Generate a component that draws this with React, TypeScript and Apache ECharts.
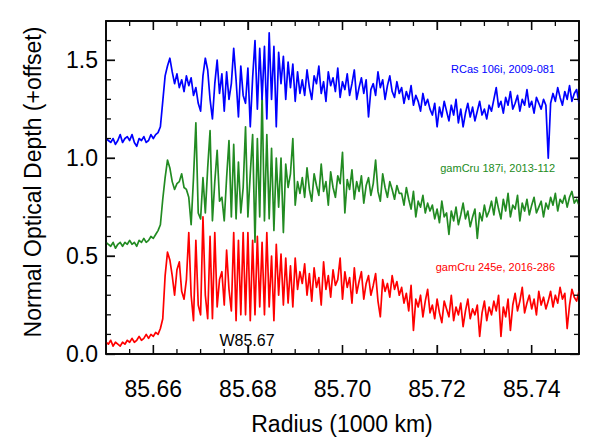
import React, { useEffect, useRef } from "react";
import * as echarts from "echarts";

// Radius sampling grid (1000 km)
const R0 = 85.65;
const DR = 0.0005;

// Normal optical depth (+offset)
const rcas106i: number[] = [
  1.10,1.09,1.08,1.10,1.07,1.09,1.12,1.08,1.10,1.11,1.09,1.12,1.08,1.06,1.10,1.09,1.11,1.08,1.09,1.12,
  1.10,1.12,1.13,1.16,1.29,1.42,1.47,1.51,1.44,1.38,
  1.43,1.36,1.40,1.34,1.42,1.37,1.41,1.32,1.36,1.28,
  1.24,1.42,1.51,1.45,1.30,1.20,1.38,1.50,1.33,1.43,
  1.24,1.44,1.30,1.38,1.56,1.40,1.21,1.47,1.32,1.28,
  1.46,1.16,1.41,1.60,1.25,1.56,1.30,1.57,1.20,1.64,
  1.30,1.57,1.16,1.54,1.38,1.52,1.30,1.49,1.36,1.48,
  1.29,1.44,1.33,
  1.40,1.32,1.45,1.36,1.30,1.42,1.38,1.47,1.33,1.39,1.29,1.44,1.37,1.41,1.34,1.46,1.31,1.39,1.35,1.43,
  1.32,1.38,1.45,1.30,1.36,1.41,1.33,1.40,1.21,1.35,1.38,1.32,1.44,1.36,1.40,1.30,1.37,1.42,1.34,1.31,
  1.39,1.33,
  1.36,1.28,1.34,1.30,1.37,1.27,1.32,1.29,1.24,1.33,1.27,1.30,1.25,
  1.22,1.28,1.16,1.26,1.21,1.29,1.24,1.19,1.27,1.22,1.30,1.18,1.25,1.16,1.23,1.28,1.21,1.26,1.19,1.24,1.29,1.22,1.25,1.20,1.27,
  1.24,1.30,1.36,1.26,1.29,1.23,1.31,1.27,1.34,1.25,1.28,1.32,1.24,1.30,1.27,1.35,1.26,1.29,1.23,1.31,1.28,1.25,1.30,1.27,
  1.00,
  1.28,1.33,1.29,1.36,1.31,1.27,1.34,1.30,1.37,1.29,1.33,1.35,1.28,
];

const gamcru187i: number[] = [
  0.57,0.56,0.55,0.57,0.54,0.56,0.57,0.55,0.57,0.56,0.58,0.56,0.57,0.55,0.58,0.57,0.59,0.57,0.58,0.60,
  0.59,0.61,0.63,0.66,0.79,0.90,0.99,0.95,0.88,0.84,
  0.87,0.88,0.92,0.85,0.84,0.80,0.66,0.90,1.18,0.72,
  0.69,0.90,0.72,0.95,1.14,0.68,0.88,1.04,0.78,0.80,
  0.68,0.90,1.09,0.70,1.07,0.69,0.98,0.72,0.85,1.16,
  0.70,0.92,1.12,0.57,1.10,0.70,1.33,0.68,1.12,0.69,
  1.05,0.63,1.00,0.75,1.00,0.62,0.97,0.85,0.92,1.10,
  0.76,0.88,0.82,
  0.90,0.80,0.95,0.84,0.78,0.92,0.86,0.81,0.97,0.83,0.88,0.76,0.93,0.85,0.80,0.91,0.87,1.03,0.72,0.89,
  0.84,0.94,0.79,0.88,0.83,0.91,0.77,0.86,0.90,0.81,0.87,0.99,0.83,0.78,0.92,0.85,0.80,0.88,0.84,0.79,
  0.86,0.82,
  0.82,0.76,0.85,0.79,0.74,0.83,0.70,0.78,0.75,0.81,0.72,0.77,0.73,
  0.76,0.69,0.74,0.67,0.78,0.70,0.72,0.61,0.73,0.68,0.75,0.66,0.71,0.77,0.69,0.73,0.65,0.70,0.74,0.59,0.72,0.68,0.76,0.70,0.73,
  0.78,0.71,0.80,0.74,0.69,0.79,0.73,0.82,0.70,0.76,0.74,0.81,0.68,0.77,0.73,0.79,0.71,0.76,0.80,0.72,0.75,0.78,0.70,0.77,
  0.74,0.80,0.76,0.82,0.73,0.79,0.77,0.81,0.75,0.80,0.83,0.77,0.79,0.76,
];

const gamcru245e: number[] = [
  0.06,0.05,0.07,0.04,0.06,0.05,0.04,0.06,0.05,0.07,0.06,0.08,0.06,0.07,0.09,0.07,0.08,0.10,0.08,0.10,
  0.09,0.11,0.10,0.13,0.18,0.40,0.52,0.48,0.40,0.30,
  0.43,0.47,0.32,0.28,0.38,0.62,0.30,0.17,0.58,0.25,
  0.20,0.70,0.30,0.18,0.60,0.18,0.62,0.24,0.38,0.42,
  0.25,0.53,0.33,0.22,0.62,0.17,0.58,0.20,0.62,0.20,
  0.62,0.17,0.58,0.20,0.60,0.24,0.57,0.20,0.62,0.24,
  0.50,0.17,0.56,0.30,0.51,0.25,0.49,0.26,0.45,0.24,
  0.49,0.33,0.42,
  0.36,0.46,0.30,0.41,0.27,0.44,0.34,0.39,0.25,0.47,0.33,0.40,0.29,0.43,0.35,0.38,0.49,0.28,0.42,0.34,
  0.39,0.26,0.44,0.31,0.37,0.42,0.28,0.36,0.40,0.30,0.35,0.41,0.27,0.19,0.38,0.32,0.36,0.29,0.40,0.33,
  0.37,0.30,
  0.34,0.26,0.31,0.22,0.35,0.12,0.28,0.24,0.30,0.19,0.27,0.33,0.21,
  0.25,0.18,0.28,0.21,0.16,0.27,0.23,0.19,0.30,0.17,0.24,0.20,0.26,0.14,0.22,0.28,0.18,0.23,0.20,0.25,0.09,0.21,0.27,0.17,0.24,
  0.20,0.27,0.22,0.30,0.09,0.24,0.19,0.28,0.12,0.25,0.31,0.22,0.27,0.34,0.21,0.26,0.30,0.23,0.28,0.20,0.32,0.25,0.29,0.23,
  0.27,0.32,0.24,0.30,0.26,0.34,0.28,0.31,0.13,0.25,0.33,0.29,0.27,0.32,
];

const seriesNames = ["RCas 106i, 2009-081", "gamCru 187i, 2013-112", "gamCru 245e, 2016-286"];
const seriesColors = ["#0000ff", "#228b22", "#ff0000"];

const X_MIN = 85.65;
const X_MAX = 85.75;
const Y_MIN = 0;
const Y_MAX = 1.7;
const xMajorTicks = [85.66, 85.68, 85.70, 85.72, 85.74];
const xMinorTicks = [85.655, 85.665, 85.67, 85.675, 85.685, 85.69, 85.695, 85.705, 85.71, 85.715, 85.725, 85.73, 85.735, 85.745];
const yMajorTicks = [0.0, 0.5, 1.0, 1.5];
const yMinorTicks = [0.1, 0.2, 0.3, 0.4, 0.6, 0.7, 0.8, 0.9, 1.1, 1.2, 1.3, 1.4, 1.6];

const FONT = '"Liberation Sans", Helvetica, Arial, sans-serif';
const INK = "#0a0a0a";

const toPoints = (vals: number[]) => vals.map((v, i) => [+(R0 + i * DR).toFixed(4), v]);

export default function App() {
  const ref = useRef<HTMLDivElement>(null);
  useEffect(() => {
    if (!ref.current) return;
    const chart = echarts.init(ref.current, null, { renderer: "svg" });
    const axisCommon = (pos: string, showLabel: boolean, isX: boolean) => ({
      type: "value",
      position: pos,
      min: isX ? X_MIN : Y_MIN,
      max: isX ? X_MAX : Y_MAX,
      splitLine: { show: false },
      axisLine: { show: true, onZero: false, lineStyle: { color: INK, width: 1.5, opacity: 1 } },
      axisTick: { show: true, inside: true, length: 9, customValues: isX ? xMajorTicks : yMajorTicks, lineStyle: { color: INK, width: 1.3, opacity: 1 } },
      minorTick: { show: false },
      axisLabel: {
        show: showLabel,
        customValues: isX ? xMajorTicks : yMajorTicks,
        formatter: (v: number) => (isX ? v.toFixed(2) : v.toFixed(1)),
        fontSize: 23,
        color: "#000000",
        fontFamily: FONT,
        margin: isX ? 23 : 8,
      },
    });
    const dataSeries = [rcas106i, gamcru187i, gamcru245e].map((vals, k) => ({
      name: seriesNames[k],
      type: "line",
      xAxisIndex: 0,
      yAxisIndex: 0,
      data: toPoints(vals),
      showSymbol: false,
      symbol: "none",
      clip: true,
      lineStyle: { color: seriesColors[k], width: 1.7, join: "round" },
      z: 3 - k,
    }));
    const textStyle = (text: string, fill: string, size: number, align: string) => ({
      text,
      fill,
      font: `${size}px ${FONT}`,
      textAlign: align,
      align,
      textVerticalAlign: "middle",
      verticalAlign: "middle",
    });
    const option: any = {
      animation: false,
      backgroundColor: "#ffffff",
      grid: {
        left: 106,
        right: 17,
        top: 21,
        bottom: 94,
        containLabel: false,
        show: true,
        borderColor: INK,
        borderWidth: 1.5,
        backgroundColor: "rgba(0,0,0,0)",
      },
      xAxis: [axisCommon("bottom", true, true), axisCommon("top", false, true)],
      yAxis: [axisCommon("left", true, false), axisCommon("right", false, false)],
      series: dataSeries,
      graphic: [
        { type: "text", x: 555, y: 69, style: textStyle(seriesNames[0], seriesColors[0], 11, "right") },
        { type: "text", x: 555, y: 168, style: textStyle(seriesNames[1], seriesColors[1], 11, "right") },
        { type: "text", x: 555, y: 267, style: textStyle(seriesNames[2], seriesColors[2], 11, "right") },
        { type: "text", x: 247, y: 340, style: textStyle("W85.67", "#000000", 16, "center") },
        { type: "text", x: 342, y: 424, style: textStyle("Radius (1000 km)", "#000000", 23, "center") },
        { type: "text", x: 33, y: 182, rotation: Math.PI / 2, style: textStyle("Normal Optical Depth (+offset)", "#000000", 23, "center") },
      ],
    };
    chart.setOption(option);

    // Frame and ticks as line series, with tick lengths derived from the chart's own scales
    const o = chart.convertToPixel({ xAxisIndex: 0, yAxisIndex: 0 }, [X_MIN, Y_MIN]) as number[];
    const e = chart.convertToPixel({ xAxisIndex: 0, yAxisIndex: 0 }, [X_MAX, Y_MAX]) as number[];
    const pxPerX = (e[0] - o[0]) / (X_MAX - X_MIN);
    const pxPerY = (o[1] - e[1]) / (Y_MAX - Y_MIN);
    const inkLine = (data: number[][], width: number) => ({
      type: "line",
      xAxisIndex: 0,
      yAxisIndex: 0,
      data,
      symbol: "none",
      showSymbol: false,
      silent: true,
      clip: false,
      z: 6,
      lineStyle: { color: INK, width, opacity: 1, type: "solid" },
      emphasis: { disabled: true },
    });
    const extra: any[] = [];
    extra.push(inkLine([[X_MIN, Y_MIN], [X_MAX, Y_MIN], [X_MAX, Y_MAX], [X_MIN, Y_MAX], [X_MIN, Y_MIN]], 1.5));
    const addX = (vals: number[], lenPx: number) =>
      vals.forEach((v) => {
        const d = lenPx / pxPerY;
        extra.push(inkLine([[v, Y_MIN], [v, Y_MIN + d]], 1.3));
        extra.push(inkLine([[v, Y_MAX], [v, Y_MAX - d]], 1.3));
      });
    const addY = (vals: number[], lenPx: number) =>
      vals.forEach((v) => {
        const d = lenPx / pxPerX;
        extra.push(inkLine([[X_MIN, v], [X_MIN + d, v]], 1.3));
        extra.push(inkLine([[X_MAX, v], [X_MAX - d, v]], 1.3));
      });
    if (isFinite(pxPerX) && isFinite(pxPerY) && pxPerX > 0 && pxPerY > 0) {
      addX(xMajorTicks, 9);
      addX(xMinorTicks, 5);
      addY(yMajorTicks, 9);
      addY(yMinorTicks, 5);
    }
    chart.setOption({ series: [...dataSeries, ...extra] });

    return () => chart.dispose();
  }, []);
  return <div ref={ref} style={{ position: "fixed", left: 0, top: 0, width: 596, height: 448 }} />;
}
